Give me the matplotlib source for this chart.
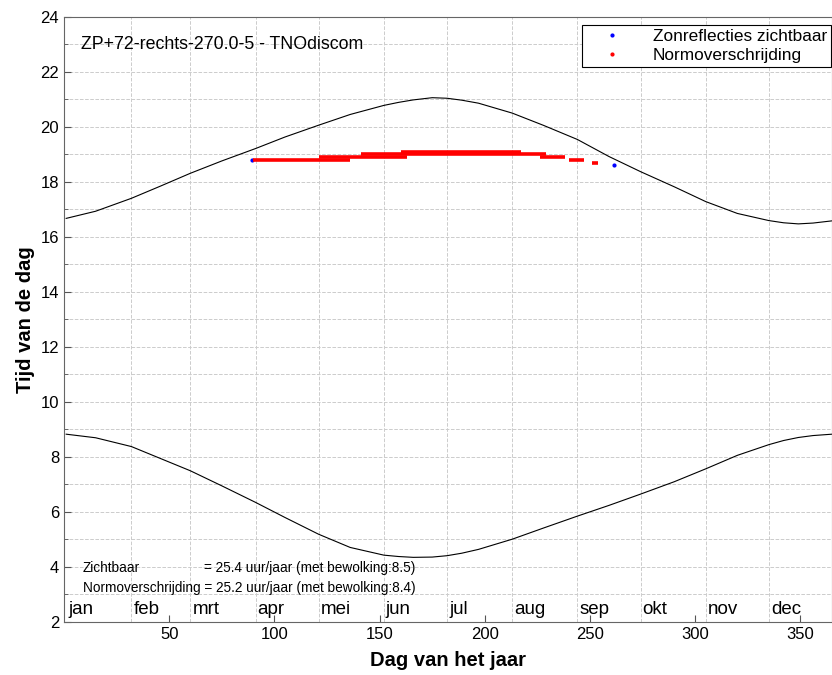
import numpy as np
import matplotlib.pyplot as plt
from matplotlib.lines import Line2D

plt.rcParams['font.family'] = ['Liberation Sans', 'DejaVu Sans']

# zonsondergang en zonsopkomst (uur)
dag = [1, 15, 32, 46, 60, 75, 91, 105, 121, 136, 152, 159, 166, 175, 182, 189,
       197, 213, 228, 244, 259, 274, 290, 305, 320, 335, 342, 349, 356, 365]
onder = [16.67, 16.93, 17.40, 17.85, 18.31, 18.76, 19.21, 19.63, 20.06, 20.45,
         20.78, 20.89, 20.98, 21.06, 21.04, 20.97, 20.86, 20.50, 20.05, 19.54,
         18.92, 18.37, 17.82, 17.28, 16.85, 16.59, 16.51, 16.47, 16.50, 16.58]
op = [8.82, 8.69, 8.37, 7.93, 7.49, 6.94, 6.34, 5.79, 5.18, 4.70, 4.42, 4.37,
      4.34, 4.35, 4.40, 4.49, 4.63, 5.00, 5.41, 5.84, 6.23, 6.64, 7.09, 7.56,
      8.05, 8.44, 8.59, 8.70, 8.77, 8.82]

# normoverschrijding: rijen (tijd, van dag, tot dag)
rood_tijd = [18.8, 18.9, 19.0, 19.1, 18.9, 18.8, 18.7]
rood_van = [90, 121, 141, 160, 226, 240, 251]
rood_tot = [136, 163, 229, 217, 238, 247, 254]

# zichtbare reflecties die niet onder rood vallen
blauw_dag = [89.5, 261.5]
blauw_tijd = [18.81, 18.6]

maand = ['jan', 'feb', 'mrt', 'apr', 'mei', 'jun', 'jul', 'aug', 'sep', 'okt', 'nov', 'dec']
maand_start = [1, 32, 60, 91, 121, 152, 182, 213, 244, 274, 305, 335]

fig = plt.figure(figsize=(8.32, 6.75), dpi=100)
ax = fig.add_axes([0.077, 0.079, 0.923, 0.896])

ax.plot(dag, onder, color='black', lw=0.8)
ax.plot(dag, op, color='black', lw=0.8)
ax.plot(blauw_dag, blauw_tijd, '.', color='blue', ms=4)
ax.hlines(rood_tijd, rood_van, rood_tot, colors='red', lw=2.6)

ax.set_xlim(0, 365)
ax.set_ylim(2, 24)
ax.set_xticks([50, 100, 150, 200, 250, 300, 350])
ax.set_xticks(maand_start[1:], minor=True)
ax.set_yticks(np.arange(2, 25, 2))
ax.set_yticks(np.arange(3, 24, 2), minor=True)
ax.grid(which='minor', axis='x', color='#cccccc', ls='--', lw=0.7)
ax.grid(which='both', axis='y', color='#cccccc', ls='--', lw=0.7)
ax.tick_params(which='major', direction='in', length=5, labelsize=12, color='#555555')
ax.tick_params(which='minor', axis='x', length=0)
ax.tick_params(which='minor', axis='y', direction='in', length=3, color='#555555')
for s in ax.spines.values():
    s.set_color('#666666')

for m, d in zip(maand, maand_start):
    ax.text(max(d + 1, 2), 2.45, m, fontsize=13.5, ha='left', va='center')

ax.text(8, 23.0, 'ZP+72-rechts-270.0-5 - TNOdiscom', fontsize=12.8, va='center')
ax.text(9, 3.95, 'Zichtbaar', fontsize=9.8, va='center')
ax.text(66.5, 3.95, '= 25.4 uur/jaar (met bewolking:8.5)', fontsize=9.8, va='center')
ax.text(9, 3.22, 'Normoverschrijding = 25.2 uur/jaar (met bewolking:8.4)', fontsize=9.8, va='center')

ax.set_xlabel('Dag van het jaar', fontsize=14.5, fontweight='bold', labelpad=7)
ax.set_ylabel('Tijd van de dag', fontsize=14.5, fontweight='bold')

handles = [Line2D([], [], ls='', marker='.', color='blue', ms=4),
           Line2D([], [], ls='', marker='.', color='red', ms=4)]
leg = ax.legend(handles, ['Zonreflecties zichtbaar', 'Normoverschrijding'],
                loc='upper right', bbox_to_anchor=(0.999, 0.987), borderaxespad=0,
                fontsize=12.4, fancybox=False, framealpha=1, edgecolor='black',
                handlelength=3.0, handletextpad=0.88, borderpad=0.25,
                labelspacing=0.2)
leg.get_frame().set_linewidth(0.8)

fig.savefig('out.png', dpi=100)
